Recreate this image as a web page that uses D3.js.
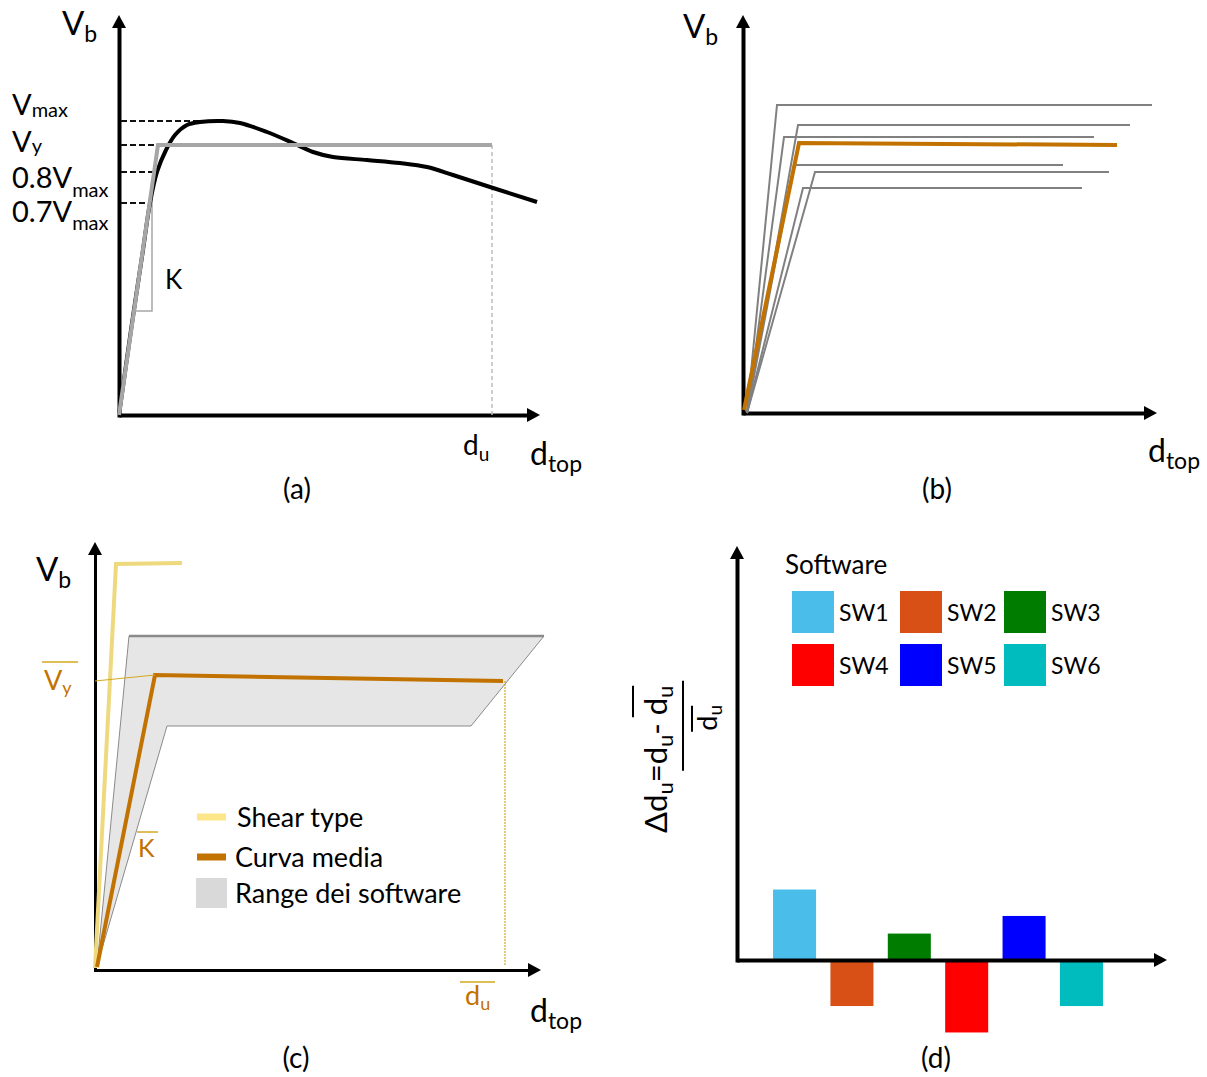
<!DOCTYPE html>
<html>
<head>
<meta charset="utf-8">
<script src="https://cdn.jsdelivr.net/npm/d3@7"></script>
<style>
  body { margin: 0; background: #fff; }
  svg { font-family: Lato, "Noto Sans", sans-serif; }
</style>
</head>
<body>
<div class="graph"></div>
<script>
// (a) pushover curve (displacement / base shear, schematic units)
var curveD = [0, 12, 24, 31, 38, 47, 56, 68, 81, 104, 121, 148, 174, 194, 214, 248, 281, 308, 334, 371, 418];
var curveV = [0, 85, 165, 212, 243, 265, 280, 290, 293, 294, 292, 283, 272, 263, 258, 255, 252, 248, 240, 228, 213];
// (a) equivalent bilinear
var bilinD = [0, 39, 373];
var bilinV = [0, 270, 270];
// (a) reference levels on the V axis
var levelMain = ["V", "V", "0.8V", "0.7V"];
var levelSub = ["max", "y", "max", "max"];
var levelV = [294, 270, 243, 212];
var levelEndD = [103, 39, 34, 31];
// (a) stiffness triangle
var kD = [15, 33, 33];
var kV = [104, 104, 228];
var duA = 373;

// (b) bilinear curves of the six software + mean curve
var swYieldD = [34, 55, 41, 51, 72, 60];
var swYieldV = [308, 288, 276, 248, 241, 225];
var swUltD = [409, 387, 351, 320, 366, 339];
var meanBD = [1, 56, 374];
var meanBV = [3, 270, 268];

// (c) shear type, range of the software, mean curve
var shearD = [0, 21, 87];
var shearV = [2, 406, 407];
var rangeD = [2, 34, 449, 376, 72, 2];
var rangeV = [4, 334, 334, 244, 244, 4];
var meanCD = [2, 60, 408];
var meanCV = [3, 295, 289];
var vyMarkD = [0, 60];
var vyMarkV = [289, 295];
var duC = 410;
var legendC = ["Shear type", "Curva media", "Range dei software"];

// (d) relative ultimate displacement per software
var swNames = ["SW1", "SW2", "SW3", "SW4", "SW5", "SW6"];
var duDelta = [16, -10, 6, -16, 10, -10];
var swColors = ["#4bbdeb", "#d95016", "#007c00", "#ff0000", "#0000ff", "#00bcbf"];

var orange = "#c27200";
var goldLine = "#d4a820";

var svg = d3.select(".graph").append("svg")
    .attr("width", 1207)
    .attr("height", 1077);

// axis drawn with d3.axis, no ticks, plus a black arrow head at the tip
function arrowAxis(orient, at, from, tip, width, headLen, headHalf) {
    var dir = tip > from ? 1 : -1;
    var s = d3.scaleLinear().range([from, tip - dir * headLen * 0.7]);
    var axis = orient === "bottom" ? d3.axisBottom(s) : d3.axisLeft(s);
    axis.tickValues([]).tickSizeOuter(0);
    var g = svg.append("g")
        .attr("transform", orient === "bottom" ? "translate(0," + at + ")" : "translate(" + at + ",0)")
        .call(axis);
    g.select(".domain").attr("stroke", "#000").attr("stroke-width", width);
    var pts = orient === "bottom"
        ? [[tip, 0], [tip - dir * headLen, -headHalf], [tip - dir * headLen, headHalf]]
        : [[0, tip], [-headHalf, tip - dir * headLen], [headHalf, tip - dir * headLen]];
    g.append("path").attr("d", "M" + pts.join("L") + "Z").attr("fill", "#000");
}

// text with a subscript
function subText(x, y, main, sub, size, subSize, dy, color) {
    var t = svg.append("text")
        .attr("x", x).attr("y", y)
        .attr("font-size", size)
        .attr("fill", color || "#000");
    t.append("tspan").text(main);
    t.append("tspan").attr("font-size", subSize).attr("dy", dy).text(sub);
    return t;
}

function overline(x1, x2, y, color) {
    svg.append("line")
        .attr("x1", x1).attr("x2", x2).attr("y1", y).attr("y2", y)
        .attr("stroke", color).attr("stroke-width", 1.5);
}

function caption(x, y, txt) {
    svg.append("text").attr("x", x).attr("y", y)
        .attr("text-anchor", "middle").attr("font-size", 28).text(txt);
}

// ---------------- (a) ----------------
var xa = d3.scaleLinear().domain([0, 421]).range([119, 540]);
var ya = d3.scaleLinear().domain([0, 400]).range([415, 15]);
var lineA = d3.line().x(function(d) { return xa(d[0]); }).y(function(d) { return ya(d[1]); });

arrowAxis("left", xa(0), ya(0) + 2, ya(400), 4, 13, 7);
arrowAxis("bottom", ya(0), xa(0), xa(421), 4, 13, 7);

svg.selectAll(".level").data(levelV).enter().append("line")
    .attr("class", "level")
    .attr("x1", xa(0) + 2)
    .attr("x2", function(d, i) { return xa(levelEndD[i]); })
    .attr("y1", function(d) { return ya(d); })
    .attr("y2", function(d) { return ya(d); })
    .attr("stroke", "#111").attr("stroke-width", 2).attr("stroke-dasharray", "6,3");

// label layout: baseline offsets from the level line and subscript drops
var levelDy = [-6, 7, 16, 19];
var levelSubDy = [2, 1, 9, 8];
levelV.forEach(function(v, i) {
    subText(12, ya(v) + levelDy[i], levelMain[i], levelSub[i], 29, 20, levelSubDy[i]);
});

svg.append("line")
    .attr("x1", xa(duA)).attr("x2", xa(duA))
    .attr("y1", ya(bilinV[2])).attr("y2", ya(0))
    .attr("stroke", "#bdbdbd").attr("stroke-width", 1.5).attr("stroke-dasharray", "4,3");

svg.append("path").datum(d3.zip(kD, kV))
    .attr("d", lineA).attr("fill", "none")
    .attr("stroke", "#a6a6a6").attr("stroke-width", 1.5);

svg.append("path").datum(d3.zip(curveD, curveV))
    .attr("d", lineA.curve(d3.curveCatmullRom))
    .attr("fill", "none").attr("stroke", "#000").attr("stroke-width", 4);
lineA.curve(d3.curveLinear);

svg.append("path").datum(d3.zip(bilinD, bilinV))
    .attr("d", lineA).attr("fill", "none")
    .attr("stroke", "#a6a6a6").attr("stroke-width", 4);

subText(62, 35, "V", "b", 33, 23, 7);
svg.append("text").attr("x", 165).attr("y", 289).attr("font-size", 26).text("K");
subText(463, 455, "d", "u", 28, 19, 6);
subText(530, 465, "d", "top", 32, 23, 7);
caption(297, 499, "(a)");

// ---------------- (b) ----------------
var xb = d3.scaleLinear().domain([0, 414]).range([743, 1157]);
var yb = d3.scaleLinear().domain([0, 398]).range([413, 15]);
var lineB = d3.line().x(function(d) { return xb(d[0]); }).y(function(d) { return yb(d[1]); });

arrowAxis("left", xb(0), yb(0) + 2, yb(398), 4, 13, 7);
arrowAxis("bottom", yb(0), xb(0), xb(414), 4, 13, 7);

svg.selectAll(".sw").data(swNames).enter().append("path")
    .attr("class", "sw")
    .attr("d", function(d, i) {
        return lineB([[4, 0], [swYieldD[i], swYieldV[i]], [swUltD[i], swYieldV[i]]]);
    })
    .attr("fill", "none").attr("stroke", "#808080").attr("stroke-width", 2);

svg.append("path").datum(d3.zip(meanBD, meanBV))
    .attr("d", lineB).attr("fill", "none")
    .attr("stroke", orange).attr("stroke-width", 4);

subText(683, 38, "V", "b", 33, 23, 7);
subText(1148, 462, "d", "top", 32, 23, 7);
caption(937, 499, "(b)");

// ---------------- (c) ----------------
var xc = d3.scaleLinear().domain([0, 446]).range([95, 541]);
var yc = d3.scaleLinear().domain([0, 428]).range([970, 542]);
var lineC = d3.line().x(function(d) { return xc(d[0]); }).y(function(d) { return yc(d[1]); });

arrowAxis("left", xc(0), yc(0) + 1.5, yc(428), 3, 13, 7);
arrowAxis("bottom", yc(0), xc(0), xc(446), 3, 13, 7);

var rangePts = d3.zip(rangeD, rangeV);
svg.append("path").datum(rangePts)
    .attr("d", lineC).attr("fill", "#e6e6e6").attr("stroke", "none");
svg.append("path").datum(rangePts.slice(1, 3))
    .attr("d", lineC).attr("fill", "none").attr("stroke", "#8a8a8a").attr("stroke-width", 2.5);
svg.append("path").datum(rangePts.slice(0, 2))
    .attr("d", lineC).attr("fill", "none").attr("stroke", "#8a8a8a").attr("stroke-width", 1);
svg.append("path").datum(rangePts.slice(2))
    .attr("d", lineC).attr("fill", "none").attr("stroke", "#8a8a8a").attr("stroke-width", 1);

svg.append("path").datum(d3.zip(shearD, shearV))
    .attr("d", lineC).attr("fill", "none")
    .attr("stroke", "#eed97e").attr("stroke-width", 4);

svg.append("path").datum(d3.zip(meanCD, meanCV))
    .attr("d", lineC).attr("fill", "none")
    .attr("stroke", orange).attr("stroke-width", 4);

svg.append("path").datum(d3.zip(vyMarkD, vyMarkV))
    .attr("d", lineC).attr("fill", "none")
    .attr("stroke", goldLine).attr("stroke-width", 1.2);

svg.append("line")
    .attr("x1", xc(duC)).attr("x2", xc(duC))
    .attr("y1", yc(meanCV[2])).attr("y2", yc(0) - 4)
    .attr("stroke", goldLine).attr("stroke-width", 1.2).attr("stroke-dasharray", "2,1");

subText(36, 581, "V", "b", 33, 23, 7);
subText(530, 1022, "d", "top", 32, 23, 7);

// overlined labels of the mean curve
overline(42, 78, 662, goldLine);
subText(44, 690, "V", "y", 27, 18, 4, orange);
overline(137, 158, 832, goldLine);
svg.append("text").attr("x", 138).attr("y", 857).attr("font-size", 25).attr("fill", orange).text("K");
overline(460, 495, 982, goldLine);
subText(465, 1005, "d", "u", 27, 18, 5, orange);

// legend
var legY = [817, 857, 893];
svg.append("line").attr("x1", 197).attr("x2", 226).attr("y1", legY[0]).attr("y2", legY[0])
    .attr("stroke", "#fde68a").attr("stroke-width", 7);
svg.append("line").attr("x1", 197).attr("x2", 226).attr("y1", legY[1]).attr("y2", legY[1])
    .attr("stroke", orange).attr("stroke-width", 7);
svg.append("rect").attr("x", 196).attr("y", 878).attr("width", 31).attr("height", 30)
    .attr("fill", "#d9d9d9");
svg.selectAll(".legc").data(legendC).enter().append("text")
    .attr("class", "legc")
    .attr("x", function(d, i) { return i === 0 ? 237 : 235; })
    .attr("y", function(d, i) { return legY[i] + 10; })
    .attr("font-size", 27)
    .text(function(d) { return d; });

caption(296, 1068, "(c)");

// ---------------- (d) ----------------
var xd = d3.scaleBand().domain(swNames).range([765, 1111]).paddingInner(0.25).paddingOuter(0.14);
var yd = d3.scaleLinear().domain([0, 94]).range([960, 546]);

svg.selectAll(".bar").data(duDelta).enter().append("rect")
    .attr("class", "bar")
    .attr("x", function(d, i) { return xd(swNames[i]); })
    .attr("width", xd.bandwidth())
    .attr("y", function(d) { return d > 0 ? yd(d) : yd(0) + 2; })
    .attr("height", function(d) { return Math.abs(yd(d) - yd(0)); })
    .attr("fill", function(d, i) { return swColors[i]; });

arrowAxis("left", 737, yd(0) + 2, yd(94), 4, 13, 7);
arrowAxis("bottom", yd(0), 737, 1167, 4, 13, 7);

// legend grid
var legCols = [792, 900, 1004];
var legRows = [591, 644];
svg.append("text").attr("x", 785).attr("y", 574).attr("font-size", 26).text("Software");
swNames.forEach(function(name, i) {
    var cx = legCols[i % 3], cy = legRows[Math.floor(i / 3)];
    svg.append("rect").attr("x", cx).attr("y", cy).attr("width", 42).attr("height", 42)
        .attr("fill", swColors[i]);
    svg.append("text").attr("x", cx + 47).attr("y", cy + 30)
        .attr("font-size", 23).text(name);
});

// rotated y label: delta d_u = (d_u - mean d_u) / mean d_u
var gl = svg.append("g").attr("transform", "translate(667,833) rotate(-90)");
var yl = gl.append("text").attr("x", 0).attr("y", 0).attr("font-size", 31);
yl.append("tspan").text("\u0394d");
yl.append("tspan").attr("font-size", 22).attr("dy", 6).text("u");
yl.append("tspan").attr("dy", -6).text("=d");
yl.append("tspan").attr("font-size", 22).attr("dy", 6).text("u");
yl.append("tspan").attr("dy", -6).text("- d");
yl.append("tspan").attr("font-size", 22).attr("dy", 6).text("u");
var n = yl.node();
var lastD = n.getStartPositionOfChar(8).x;
var endX = n.getEndPositionOfChar(9).x;
gl.append("line").attr("x1", lastD - 2).attr("x2", endX).attr("y1", -34).attr("y2", -34)
    .attr("stroke", "#000").attr("stroke-width", 2);
gl.append("line").attr("x1", endX - 85).attr("x2", endX + 5).attr("y1", 16).attr("y2", 16)
    .attr("stroke", "#000").attr("stroke-width", 2);
var den = gl.append("text").attr("x", endX - 45).attr("y", 50).attr("font-size", 27);
den.append("tspan").text("d");
den.append("tspan").attr("font-size", 19).attr("dy", 5).text("u");
gl.append("line").attr("x1", endX - 46).attr("x2", endX - 20).attr("y1", 25).attr("y2", 25)
    .attr("stroke", "#000").attr("stroke-width", 2);

caption(936, 1068, "(d)");
</script>
</body>
</html>
